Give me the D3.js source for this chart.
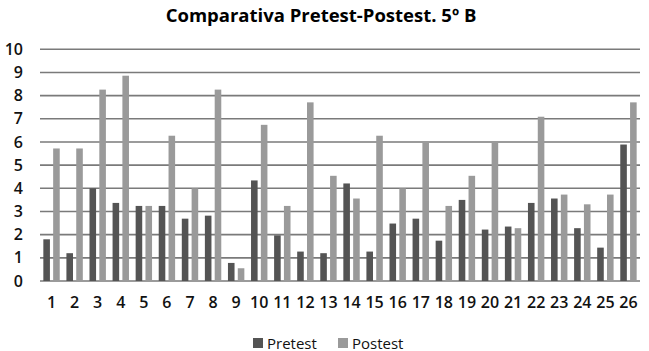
<!DOCTYPE html>
<html>
<head>
<meta charset="utf-8">
<script src="https://cdn.jsdelivr.net/npm/d3@7"></script>
<style>
  html, body { margin: 0; padding: 0; background: #fff; }
  svg { display: block; }
</style>
</head>
<body>
<svg id="chart" width="649" height="351"></svg>
<script>
const categories = ["1","2","3","4","5","6","7","8","9","10","11","12","13","14","15","16","17","18","19","20","21","22","23","24","25","26"];
const pretest = [1.8,1.2,4.0,3.37,3.24,3.24,2.69,2.82,0.78,4.34,1.97,1.27,1.2,4.21,1.27,2.48,2.69,1.74,3.5,2.22,2.35,3.37,3.56,2.28,1.44,5.89];
const postest = [5.72,5.72,8.26,8.86,3.24,6.27,4.0,8.26,0.55,6.74,3.24,7.71,4.54,3.56,6.27,4.0,5.98,3.24,4.54,5.98,2.28,7.09,3.73,3.31,3.73,7.71];
const seriesNames = ["Pretest","Postest"];
const yTicks = [0,1,2,3,4,5,6,7,8,9,10];
const title = "Comparativa Pretest-Postest. 5º B";

const colors = {Pretest: "#545454", Postest: "#9a9a9a"};
const svg = d3.select("#chart");
const font = "'Open Sans', 'Noto Sans', sans-serif";

const x = d3.scaleBand().domain(categories).range([40, 640]).paddingInner(0).paddingOuter(0);
const xs = d3.scaleBand().domain(seriesNames).range([0, x.bandwidth()]).paddingInner(0.33).paddingOuter(0.34);
const y = d3.scaleLinear().domain([0, 10]).range([281, 49.3]);

// Title
svg.append("text")
  .attr("x", 321).attr("y", 22)
  .attr("text-anchor", "middle")
  .attr("font-family", font)
  .attr("font-weight", "bold")
  .attr("font-size", 18.5)
  .attr("fill", "#000")
  .text(title);

// gridlines
svg.append("g").selectAll("line").data(yTicks).join("line")
  .attr("x1", 40).attr("x2", 640)
  .attr("y1", d => y(d)).attr("y2", d => y(d))
  .attr("stroke", "#7a7a7a").attr("stroke-width", 1.6);

// y axis labels
const yAxis = d3.axisLeft(y).tickValues(yTicks).tickSize(0).tickPadding(0).tickFormat(d3.format("d"));
const gy = svg.append("g").attr("transform", "translate(23,0)").call(yAxis);
gy.select(".domain").remove();
gy.selectAll("text").attr("font-family", font).attr("font-size", 16).attr("font-weight", 600).attr("fill", "#111");

// bars
const data = categories.map((c, i) => ({cat: c, values: [
  {name: "Pretest", v: pretest[i]}, {name: "Postest", v: postest[i]}]}));
const groups = svg.append("g").selectAll("g").data(data).join("g")
  .attr("transform", d => `translate(${x(d.cat)},0)`);
groups.selectAll("rect").data(d => d.values).join("rect")
  .attr("x", d => xs(d.name))
  .attr("width", xs.bandwidth())
  .attr("y", d => y(d.v))
  .attr("height", d => y(0) - y(d.v))
  .attr("fill", d => colors[d.name]);

// x axis labels
const xAxis = d3.axisBottom(x).tickSize(0).tickPadding(0);
const gx = svg.append("g").attr("transform", "translate(0,297)").call(xAxis);
gx.select(".domain").remove();
gx.selectAll("text").attr("font-family", font).attr("font-size", 16).attr("font-weight", 600).attr("fill", "#111");

// legend
const legendX = {Pretest: 253, Postest: 338};
const lg = svg.append("g").selectAll("g").data(seriesNames).join("g")
  .attr("transform", d => `translate(${legendX[d]},338)`);
lg.append("rect").attr("width", 10).attr("height", 10).attr("fill", d => colors[d]);
lg.append("text").attr("x", 14).attr("y", 10.5)
  .attr("font-family", font).attr("font-size", 15).attr("fill", "#111")
  .text(d => d);
</script>
</body>
</html>
